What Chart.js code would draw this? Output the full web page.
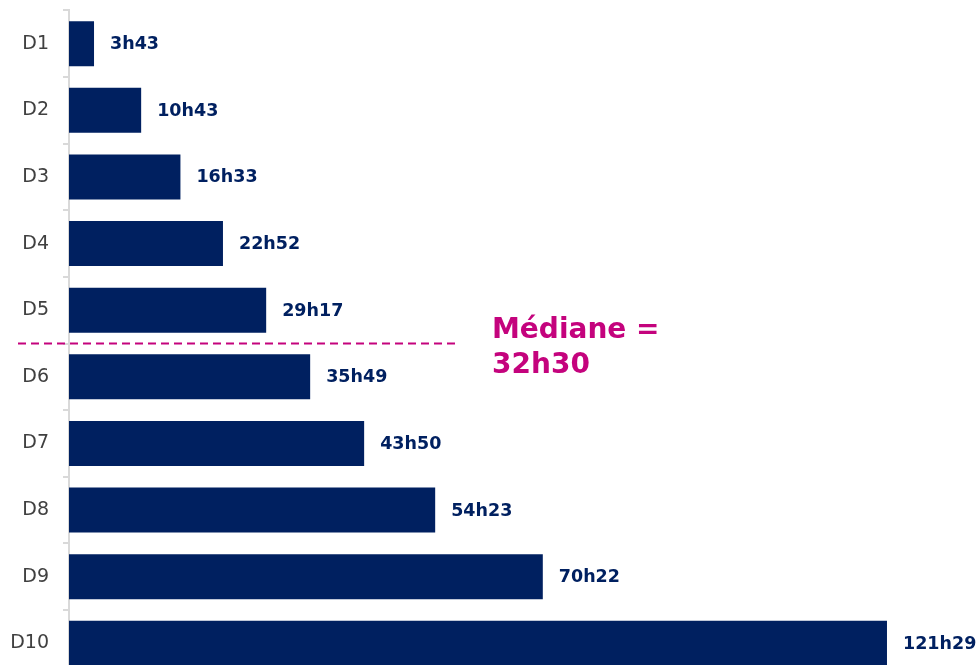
<!DOCTYPE html>
<html lang="fr">
<head>
<meta charset="utf-8">
<script src="https://cdn.jsdelivr.net/npm/chart.js@4/dist/chart.umd.min.js"></script>
<style>
  html, body { margin: 0; padding: 0; background: #fff; overflow: hidden; }
  #cadre { position: relative; width: 978px; height: 717px; margin-top: -15px; }
</style>
</head>
<body>
<div id="cadre"><canvas id="graficoDeciles"></canvas></div>
<script>
// Données : déciles et durée (format XhYY)
const deciles = ['D1', 'D2', 'D3', 'D4', 'D5', 'D6', 'D7', 'D8', 'D9', 'D10'];
const durees = ['3h43', '10h43', '16h33', '22h52', '29h17', '35h49', '43h50', '54h23', '70h22', '121h29'];
const mediane = '32h30';
const texteMediane = ['Médiane =', mediane];

// conversion "XhYY" -> heures décimales
function enHeures(txt) {
    const p = txt.split('h');
    return parseInt(p[0], 10) + parseInt(p[1], 10) / 60;
}
const valeurs = durees.map(enHeures);

const bleu = '#002060';
const magenta = '#C4037D';

// Étiquettes de valeur à droite des barres
const pluginEtiquettes = {
    id: 'etiquettes',
    afterDatasetsDraw(chart) {
        const ctx = chart.ctx;
        const meta = chart.getDatasetMeta(0);
        ctx.save();
        ctx.font = 'bold 17.5px "DejaVu Sans"';
        ctx.fillStyle = bleu;
        ctx.textAlign = 'left';
        ctx.textBaseline = 'middle';
        meta.data.forEach(function (barre, i) {
            ctx.fillText(durees[i], barre.x + 16, barre.y + 1);
        });
        ctx.restore();
    }
};

// Ligne pointillée de la médiane entre D5 et D6
const pluginMediane = {
    id: 'mediane',
    afterDatasetsDraw(chart) {
        const ctx = chart.ctx;
        const y = chart.scales.y;
        const ligneY = (y.getPixelForValue(4) + y.getPixelForValue(5)) / 2;
        const gauche = chart.chartArea.left - 51;
        const droite = chart.chartArea.left + 389;
        ctx.save();
        ctx.strokeStyle = magenta;
        ctx.lineWidth = 2;
        ctx.setLineDash([8, 5]);
        ctx.beginPath();
        ctx.moveTo(gauche, ligneY);
        ctx.lineTo(droite, ligneY);
        ctx.stroke();
        ctx.setLineDash([]);
        ctx.font = 'bold 28px "DejaVu Sans"';
        ctx.fillStyle = magenta;
        ctx.textAlign = 'left';
        ctx.textBaseline = 'alphabetic';
        ctx.fillText(texteMediane[0], droite + 34, ligneY - 6);
        ctx.fillText(texteMediane[1], droite + 34, ligneY + 29);
        ctx.restore();
    }
};

const config = {
    type: 'bar',
    data: {
        labels: deciles,
        datasets: [{
            label: 'Durée',
            data: valeurs,
            backgroundColor: bleu,
            borderWidth: 0,
            barPercentage: 0.675,
            categoryPercentage: 1
        }]
    },
    options: {
        indexAxis: 'y',
        responsive: true,
        maintainAspectRatio: false,
        animation: false,
        layout: { padding: { top: 9, right: 0, bottom: 24, left: 0 } },
        plugins: {
            legend: { display: false },
            tooltip: { enabled: false }
        },
        scales: {
            x: {
                display: false,
                min: 0,
                max: 135
            },
            y: {
                afterFit: function (scale) { scale.width = 69; },
                grid: {
                    drawOnChartArea: false,
                    drawTicks: true,
                    tickLength: 6,
                    color: '#d9d9d9',
                    lineWidth: 2,
                    offset: true
                },
                border: { color: '#d9d9d9', width: 2 },
                ticks: {
                    color: '#404040',
                    padding: 14,
                    font: { family: '"DejaVu Sans"', size: 19 }
                }
            }
        }
    },
    plugins: [pluginEtiquettes, pluginMediane]
};

new Chart(document.getElementById('graficoDeciles'), config);
</script>
</body>
</html>
